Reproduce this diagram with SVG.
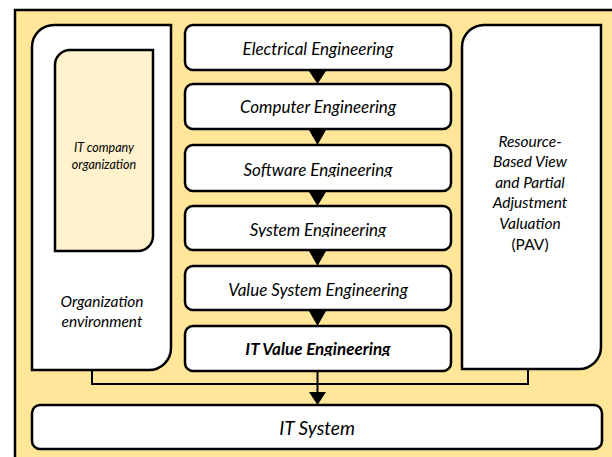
<svg xmlns="http://www.w3.org/2000/svg" width="612" height="457" viewBox="0 0 612 457">
<style>
.shape{stroke:#000;stroke-width:2.5;fill:#fff}
.box{stroke:#000;stroke-width:2.5;fill:#fff}
.t{font-family:Lato,"Liberation Sans",sans-serif;font-style:italic;font-size:17px;fill:#000;text-anchor:middle}
.s{font-size:15.5px}
.line{stroke:#000;stroke-width:2;fill:none}
.head{fill:#000}
</style>
<defs>
<clipPath id="c3"><rect x="185" y="145" width="266" height="32"/></clipPath>
<clipPath id="c4"><rect x="185" y="206" width="266" height="31"/></clipPath>
<clipPath id="c6"><rect x="185" y="326" width="266" height="30"/></clipPath>
</defs>
<rect id="background" x="15" y="10" width="610" height="460" fill="#FFE699" stroke="#000" stroke-width="2.5"/>
<g id="org-environment">
<path class="shape" d="M54,25 H171 V348 A22,22 0 0 1 149,370 H32 V47 A22,22 0 0 1 54,25 Z"/>
<text class="t s" x="102" y="307">Organization</text>
<text class="t s" x="102" y="327">environment</text>
</g>
<g id="it-company">
<path class="shape" style="fill:#FFF2CC" d="M70,50 H153 V236 A15,15 0 0 1 138,251 H55 V65 A15,15 0 0 1 70,50 Z"/>
<text class="t" x="104" y="152" style="font-size:12.5px">IT company</text>
<text class="t" x="104" y="169" style="font-size:12.5px">organization</text>
</g>
<g id="rbv-pav">
<path class="shape" d="M484,25 H601 V347 A22,22 0 0 1 579,369 H462 V47 A22,22 0 0 1 484,25 Z"/>
<text class="t s" x="530" y="147">Resource-</text>
<text class="t s" x="530" y="167">Based View</text>
<text class="t s" x="530" y="188">and Partial</text>
<text class="t s" x="530" y="208">Adjustment</text>
<text class="t s" x="530" y="229">Valuation</text>
<text class="t s" x="530" y="250" style="font-style:normal">(PAV)</text>
</g>
<g id="electrical">
<rect class="box" x="185" y="25" width="266" height="45" rx="8"/>
<text class="t" x="318" y="55">Electrical Engineering</text>
</g>
<g id="computer">
<rect class="box" x="185" y="84" width="266" height="45" rx="8"/>
<text class="t" x="318" y="113">Computer Engineering</text>
</g>
<g id="software">
<rect class="box" x="185" y="145" width="266" height="46" rx="8"/>
<text class="t" x="318" y="176" clip-path="url(#c3)">Software Engineering</text>
</g>
<g id="system">
<rect class="box" x="185" y="206" width="266" height="44" rx="8"/>
<text class="t" x="318" y="236" clip-path="url(#c4)">System Engineering</text>
</g>
<g id="value-system">
<rect class="box" x="185" y="266" width="266" height="44" rx="8"/>
<text class="t" x="318" y="296">Value System Engineering</text>
</g>
<g id="it-value">
<rect class="box" x="185" y="326" width="266" height="45" rx="8"/>
<text class="t" x="318" y="355" style="font-weight:bold" clip-path="url(#c6)">IT Value Engineering</text>
</g>
<g id="it-system">
<rect class="box" x="32" y="405" width="570" height="44" rx="8"/>
<text class="t" x="317" y="435" style="font-size:19px">IT System</text>
</g>
<g id="connectors">
<polygon class="head" points="309,71 326,71 317.5,84"/>
<polygon class="head" points="309,130 326,130 317.5,145"/>
<polygon class="head" points="309,192 326,192 317.5,206"/>
<polygon class="head" points="309,251 326,251 317.5,266"/>
<polygon class="head" points="309,311 326,311 317.5,326"/>
<polyline class="line" points="92,371 92,384 528,384 528,370"/>
<line class="line" x1="317.5" y1="372" x2="317.5" y2="393"/>
<polygon class="head" points="309,392 326,392 317.5,405"/>
</g>
</svg>
